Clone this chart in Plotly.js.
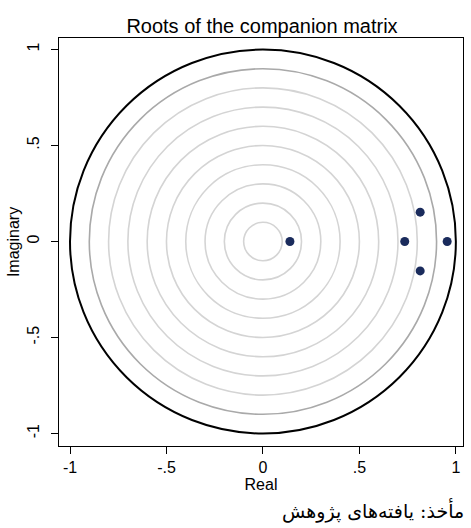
<!DOCTYPE html>
<html>
<head>
<meta charset="utf-8">
<script src="https://cdn.plot.ly/plotly-3.0.1.min.js"></script>
<style>html,body{margin:0;padding:0;background:#fff;}</style>
</head>
<body>
<div id="chart" style="width:471px;height:528px;"></div>
<script>
// Roots of the companion matrix (eigenvalues)
const realParts = [0.14, 0.735, 0.955, 0.815, 0.815];
const imagParts = [0.0, 0.0, 0.0, 0.153, -0.153];
// reference circles
const unitRadius = 1;
const gridRadii = [0.9, 0.8, 0.7, 0.6, 0.5, 0.4, 0.3, 0.2, 0.1];
const xTickVals = [-1, -0.5, 0, 0.5, 1];
const xTickText = ['-1', '-.5', '0', '.5', '1'];
const yTickVals = [-1, -0.5, 0, 0.5, 1];
const yTickText = ['-1', '-.5', '0', '.5', '1'];
const titleText = 'Roots of the companion matrix';
const xTitle = 'Real';
const yTitle = 'Imaginary';
const sourceNote = 'مأخذ: یافته‌های پژوهش';

const shapes = [];
gridRadii.forEach((r, i) => {
  shapes.push({
    type: 'circle', xref: 'x', yref: 'y', layer: 'below',
    x0: -r, x1: r, y0: -r, y1: r,
    line: {color: i === 0 ? '#a9a9a9' : '#d4d4d4', width: 1.6}
  });
});
shapes.push({
  type: 'circle', xref: 'x', yref: 'y', layer: 'below',
  x0: -unitRadius, x1: unitRadius, y0: -unitRadius, y1: unitRadius,
  line: {color: '#000000', width: 2}
});

const trace = {
  x: realParts, y: imagParts, type: 'scatter', mode: 'markers',
  marker: {color: '#1a2b5c', size: 9},
  hoverinfo: 'x+y', showlegend: false
};

const fam = '"Liberation Sans", Arial, sans-serif';
const font = {family: fam, color: '#000'};

const layout = {
  width: 471, height: 528,
  margin: {l: 59, r: 8, t: 38, b: 82},
  paper_bgcolor: '#fff', plot_bgcolor: '#fff',
  font: font,
  title: {text: titleText, font: {size: 20, family: fam, color: '#000'},
          x: 262/471, xanchor: 'center', y: 1 - 26/528, yanchor: 'middle', yref: 'container'},
  xaxis: {
    range: [-1.057, 1.037], tickvals: xTickVals, ticktext: xTickText,
    showgrid: false, zeroline: false, showline: true, mirror: true,
    linecolor: '#000', linewidth: 1, ticks: 'outside', ticklen: 7, tickcolor: '#000',
    tickfont: {size: 16, family: fam, color: '#000'},
    title: {text: xTitle, font: {size: 16, family: fam, color: '#000'}, standoff: 0}
  },
  yaxis: {
    range: [-1.065, 1.06], tickvals: yTickVals, ticktext: yTickText, tickangle: -90,
    showgrid: false, zeroline: false, showline: true, mirror: true,
    linecolor: '#000', linewidth: 1, ticks: 'outside', ticklen: 7, tickcolor: '#000',
    ticklabelstandoff: 6,
    tickfont: {size: 16, family: fam, color: '#000'},
    title: {text: yTitle, font: {size: 16, family: fam, color: '#000'}, standoff: 0}
  },
  shapes: shapes,
  annotations: [{
    text: sourceNote, xref: 'paper', yref: 'paper',
    x: (466 - 59) / 404, y: -0.157,
    xanchor: 'right', yanchor: 'middle', showarrow: false, align: 'right',
    font: {size: 19, family: '"DejaVu Serif", "DejaVu Sans", serif', color: '#000'}
  }]
};

Plotly.newPlot('chart', [trace], layout, {displayModeBar: false, staticPlot: true});
</script>
</body>
</html>
